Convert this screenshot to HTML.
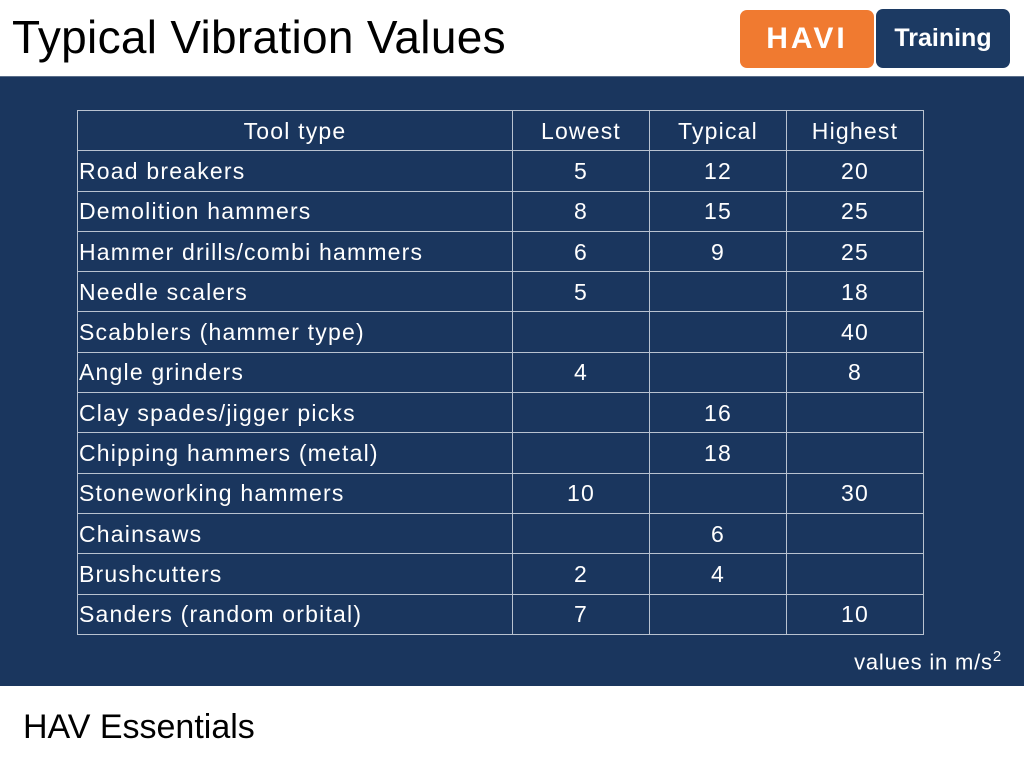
<!DOCTYPE html>
<html><head><meta charset="utf-8"><style>
body{margin:0;width:1024px;height:768px;background:#fff;position:relative;overflow:hidden;font-family:"Liberation Sans",sans-serif}
.title{position:absolute;left:12px;top:10px;font-size:46px;color:#000;letter-spacing:0.3px}
.panel{position:absolute;left:0;top:76px;width:1024px;height:609px;background:#1a365e;border-top:1px solid #5a6e8a}
table{position:absolute;left:77px;top:110px;border-collapse:collapse;color:#fff;font-size:23px;letter-spacing:1.2px}
td{border:1.5px solid #b8c2d0;height:39.3px;padding:0 1px;line-height:22px}
td.n{text-align:center}
.units{position:absolute;right:22px;top:648px;color:#fff;font-size:22px;letter-spacing:0.8px}
.footer{position:absolute;left:23px;top:708px;font-size:34px;color:#000}
.logo1{position:absolute;left:740px;top:10px;width:134px;height:58px;background:#f07a30;border-radius:7px;color:#fff;font-weight:bold;font-size:30px;text-align:center;line-height:58px;letter-spacing:3px}
.logo2{position:absolute;left:876px;top:9px;width:134px;height:59px;background:#1c3a63;border-radius:7px;color:#fff;font-weight:bold;font-size:25px;text-align:center;line-height:59px}
</style></head><body>
<div class="title">Typical Vibration Values</div>
<div class="logo1">HAVI</div>
<div class="logo2">Training</div>
<div class="panel"></div>
<table>
<colgroup><col style="width:435px"><col style="width:137px"><col style="width:137px"><col style="width:137px"></colgroup>
<tr><td class="n">Tool type</td><td class="n">Lowest</td><td class="n">Typical</td><td class="n">Highest</td></tr>
<tr><td>Road breakers</td><td class="n">5</td><td class="n">12</td><td class="n">20</td></tr>
<tr><td>Demolition hammers</td><td class="n">8</td><td class="n">15</td><td class="n">25</td></tr>
<tr><td>Hammer drills/combi hammers</td><td class="n">6</td><td class="n">9</td><td class="n">25</td></tr>
<tr><td>Needle scalers</td><td class="n">5</td><td class="n"></td><td class="n">18</td></tr>
<tr><td>Scabblers (hammer type)</td><td class="n"></td><td class="n"></td><td class="n">40</td></tr>
<tr><td>Angle grinders</td><td class="n">4</td><td class="n"></td><td class="n">8</td></tr>
<tr><td>Clay spades/jigger picks</td><td class="n"></td><td class="n">16</td><td class="n"></td></tr>
<tr><td>Chipping hammers (metal)</td><td class="n"></td><td class="n">18</td><td class="n"></td></tr>
<tr><td>Stoneworking hammers</td><td class="n">10</td><td class="n"></td><td class="n">30</td></tr>
<tr><td>Chainsaws</td><td class="n"></td><td class="n">6</td><td class="n"></td></tr>
<tr><td>Brushcutters</td><td class="n">2</td><td class="n">4</td><td class="n"></td></tr>
<tr><td>Sanders (random orbital)</td><td class="n">7</td><td class="n"></td><td class="n">10</td></tr>
</table>
<div class="units">values in m/s<sup style="font-size:15px">2</sup></div>
<div class="footer">HAV Essentials</div>
</body></html>
